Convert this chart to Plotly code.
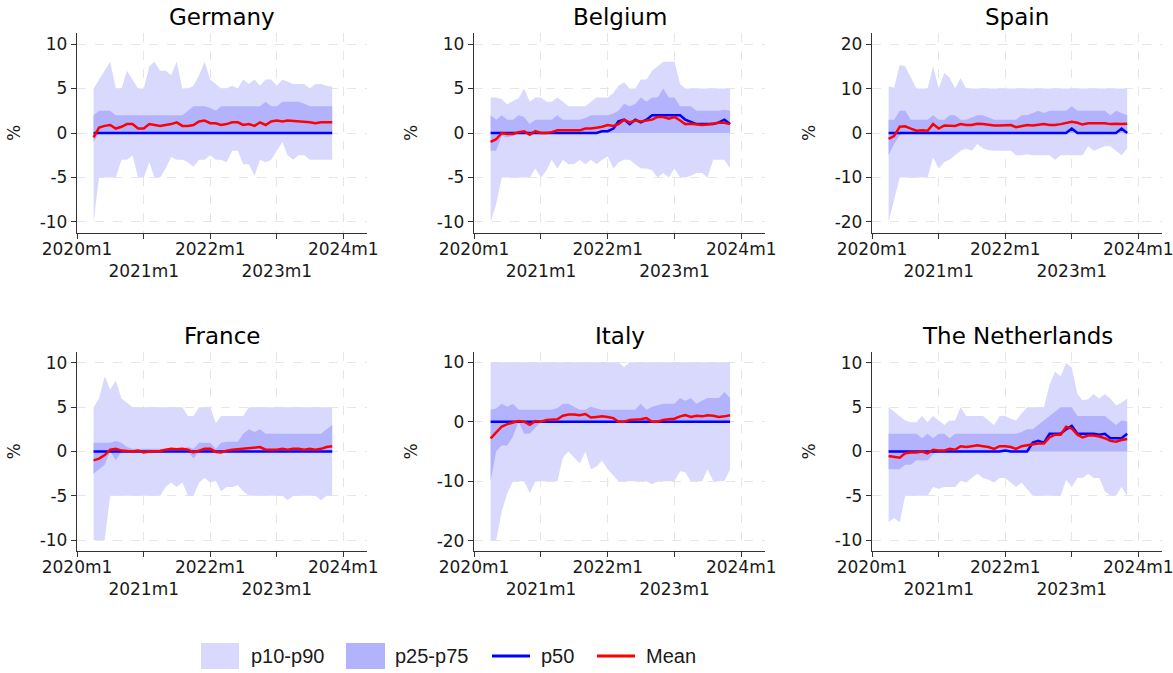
import plotly.graph_objects as go
import pandas as pd

# ---------------- data ----------------
months = list(pd.date_range("2020-04-01", periods=44, freq="MS").strftime("%Y-%m-%d"))
year_ticks = ["2020-01-01", "2021-01-01", "2022-01-01", "2023-01-01", "2024-01-01"]
year_labels = ["2020m1", "<br>2021m1", "2022m1", "<br>2023m1", "2024m1"]
countries = ["Germany", "Belgium", "Spain", "France", "Italy", "The Netherlands"]
ytick_10 = [-10, -5, 0, 5, 10]
ytext_10 = ["-10", "-5", "0", "5", "10"]
ytick_20 = [-20, -10, 0, 10, 20]
ytext_20 = ["-20", "-10", "0", "10", "20"]
ytick_it = [-20, -10, 0, 10]
ytext_it = ["-20", "-10", "0", "10"]
legend_labels = ["p10-p90", "p25-p75", "p50", "Mean"]

de_p10 = [-10, -5, -5, -5, -5, -3, -3, -2.5, -5, -5,
          -3.3, -5, -5, -4, -2.7, -3, -3, -3.3, -3.8, -3,
          -3, -2.5, -3, -3, -3.3, -2, -2, -3.5, -3.5, -4.8,
          -3, -3.3, -3, -2, -1, -2.5, -3, -2.5, -2.5, -3,
          -3, -3, -3, -3]
de_p25 = [-1, 0, 0, 0, 0, 0, 0, 0, 0, 0,
          0, 0, 0, 0, 0, 0, 0, 0, 0, 0,
          0, 0, 0, 0, 0, 0, 0, 0, 0, 0,
          0, 0, 0, 0, 0, 0, 0, 0, 0, 0,
          0, 0, 0, 0]
de_p50 = [0, 0, 0, 0, 0, 0, 0, 0, 0, 0,
          0, 0, 0, 0, 0, 0, 0, 0, 0, 0,
          0, 0, 0, 0, 0, 0, 0, 0, 0, 0,
          0, 0, 0, 0, 0, 0, 0, 0, 0, 0,
          0, 0, 0, 0]
de_p75 = [2, 2.5, 2.5, 2.5, 2, 2, 2, 2, 2, 2,
          2, 2, 2, 2, 2, 2, 2, 2.5, 3, 3,
          3, 2.8, 2.5, 3, 3, 3, 3, 3, 3, 3,
          3, 3.5, 3, 3, 3.5, 3.5, 3.5, 3.5, 3.3, 3,
          3, 3, 3, 3]
de_p90 = [5, 6, 7, 8, 5, 5, 7, 6, 5, 5,
          7.5, 8, 7, 7, 6.5, 8, 5, 5, 5.3, 6.5,
          8, 6, 5.5, 5, 5, 5.3, 5, 6, 5.5, 6,
          5.3, 6, 6, 5.3, 6, 5.8, 5.5, 5.5, 5.5, 5,
          5.5, 5.5, 5.3, 5.2]
de_mean = [-0.5, 0.6, 0.8, 0.9, 0.5, 0.7, 1.0, 1.0, 0.5, 0.5,
           1.0, 0.9, 0.8, 0.9, 1.0, 1.2, 0.8, 0.8, 0.9, 1.3,
           1.4, 1.1, 1.1, 0.9, 1.0, 1.2, 1.2, 0.9, 1.0, 0.8,
           1.2, 0.9, 1.3, 1.4, 1.3, 1.4, 1.35, 1.35, 1.3, 1.2,
           1.1, 1.2, 1.2, 1.2]

be_p10 = [-10, -8, -5, -5, -5, -5, -5, -5, -4, -5,
          -4.2, -3, -4, -3, -3.5, -3.5, -3, -3.5, -3, -3.5,
          -3, -2.6, -4, -3.3, -3, -3, -3.5, -4, -4, -4.2,
          -5, -4.5, -5, -4, -5, -5, -4.8, -4.5, -4.5, -5,
          -3, -3, -3, -4]
be_p25 = [-2, -2, -0.3, -0.5, -0.3, 0, 0, 0, 0, 0,
          0, 0, 0, 0, 0, 0, 0, 0, 0, 0,
          0, 0, 0, 0, 0, 0, 0, 0, 0, 0,
          0, 0, 0, 0, 0, 0, 0, 0, 0, 0,
          0, 0, 0, 0]
be_p50 = [0, 0, 0, 0, 0, 0, 0, 0, 0, 0,
          0, 0, 0, 0, 0, 0, 0, 0, 0, 0,
          0.2, 0.2, 0.5, 1.3, 1.5, 1.0, 1.5, 1.2, 1.5, 2,
          2, 2, 2, 2, 2, 1.5, 1.2, 1, 1, 1,
          1, 1.2, 1.5, 1]
be_p75 = [2, 1.5, 2, 1.5, 1.5, 2, 1.8, 1, 1.5, 1.5,
          1.5, 1.5, 2, 1.5, 1.5, 1.5, 1.5, 1.7, 2, 2,
          2, 2, 2.2, 2.5, 3.3, 3, 3.3, 4, 3.5, 4,
          4, 5, 4, 4, 3, 3, 3, 2.5, 2.5, 2.5,
          2.5, 2.5, 2.6, 2.5]
be_p90 = [4, 4, 3.8, 3.2, 3.6, 3.9, 5, 3.5, 4, 4,
          3.5, 3.5, 4, 3.5, 3, 3, 3, 3, 3.5, 4,
          4, 4, 4.5, 5.3, 5.7, 5, 5, 6, 6, 7,
          7.5, 8, 8, 8, 5.5, 5, 5, 5, 5, 5,
          5, 5, 5, 5]
be_mean = [-1, -0.7, 0, -0.1, -0.1, 0.1, 0.2, -0.2, 0.2, 0,
           0, 0.1, 0.3, 0.3, 0.35, 0.3, 0.3, 0.5, 0.5, 0.6,
           0.7, 0.9, 0.8, 1.0, 1.5, 1.2, 1.4, 1.3, 1.4, 1.5,
           1.8, 1.8, 1.6, 1.8, 1.4, 1.0, 1.05, 1.0, 0.9, 0.95,
           1.05, 1.15, 1.15, 1.0]

es_p10 = [-20, -15, -10, -10, -10, -10, -10, -10, -5.5, -8,
          -6.5, -6, -5, -4, -3.5, -4, -2.5, -3.5, -3.8, -4,
          -4, -4, -4, -5, -5, -4.8, -5, -5, -5, -5,
          -6, -5, -5, -5, -5, -5, -3, -4, -3.5, -3,
          -3, -4, -5, -3.5]
es_p25 = [-5, -2.5, -0.5, 0, 0, 0, 0, 0, 0, 0,
          0, 0, 0, 0, 0, 0, 0, 0, 0, 0,
          0, 0, 0, 0, 0, 0, 0, 0, 0, 0,
          0, 0, 0, 0, 0, 0, 0, 0, 0, 0,
          0, 0, 0, 0]
es_p50 = [0, 0, 0, 0, 0, 0, 0, 0, 0, 0,
          0, 0, 0, 0, 0, 0, 0, 0, 0, 0,
          0, 0, 0, 0, 0, 0, 0, 0, 0, 0,
          0, 0, 0, 1, 0, 0, 0, 0, 0, 0,
          0, 0, 1, 0]
es_p75 = [3, 3, 5, 5, 3, 3, 3, 3, 4, 3,
          3, 4, 4, 3, 3, 3.5, 4, 4, 3.5, 3,
          3, 3, 3, 3, 4, 4, 4.5, 5, 4.5, 5,
          5, 5, 5, 6, 5, 5, 5, 5, 5, 5,
          4, 5, 4.5, 4]
es_p90 = [10.5, 10.2, 15.3, 15, 12.5, 10, 10, 10, 15, 10,
          13.5, 12.5, 10, 12.3, 10, 10, 10, 10, 10, 10,
          10, 10, 10, 10, 10, 10, 10, 10, 10, 10,
          10, 10, 10, 10, 10, 10, 10, 10, 10, 10,
          10, 10, 10, 10]
es_mean = [-1.3, -0.7, 1.4, 1.5, 1.0, 0.5, 0.6, 0.5, 2.0, 1.0,
           1.7, 1.6, 1.6, 2.0, 1.8, 1.8, 2.1, 2.0, 1.8, 1.7,
           1.7, 1.7, 1.8, 1.3, 1.5, 1.8, 1.7, 1.8, 2.0, 1.8,
           1.8, 2.0, 2.2, 2.5, 2.3, 1.9, 2.2, 2.2, 2.3, 2.2,
           2.0, 2.1, 2.0, 2.1]

fr_p10 = [-10, -10, -10, -5, -5, -5, -5, -5, -5, -5,
          -5, -5, -5, -4, -3.5, -4, -3.5, -5, -5, -3.5,
          -3, -3.5, -3.3, -4.5, -4, -4, -3.8, -4.5, -5, -5,
          -5, -5, -5, -5, -5, -5.5, -5, -5, -5, -5,
          -5, -5.5, -5, -5]
fr_p25 = [-2.5, -2, -1.5, 0, -1, 0, 0, 0, 0, 0,
          0, 0, 0, 0, 0, 0, 0, 0, -0.8, 0,
          0, 0, 0, 0, 0, 0, 0, 0, 0, 0,
          0, 0, 0, 0, 0, 0, 0, 0, 0, 0,
          0, 0, 0, 0]
fr_p50 = [0, 0, 0, 0, 0, 0, 0, 0, 0, 0,
          0, 0, 0, 0, 0, 0, 0, 0, 0, 0,
          0, 0, 0, 0, 0, 0, 0, 0, 0, 0,
          0, 0, 0, 0, 0, 0, 0, 0, 0, 0,
          0, 0, 0, 0]
fr_p75 = [1, 1, 1, 1, 1.2, 1, 0.5, 0.3, 0.3, 0.3,
          0.3, 0.3, 0.3, 0.3, 0.3, 0.3, 0.3, 0.5, 0.3, 1,
          1, 1, 0.3, 1, 1.1, 1.1, 1.1, 2, 2.5, 2.2,
          2.5, 2, 2, 2, 2, 2, 2, 2, 2, 2,
          2, 2, 2.5, 3]
fr_p90 = [5, 6, 8.5, 7, 8, 6, 5.5, 5, 5, 5,
          5, 5, 5, 5, 5, 5, 5, 4, 4, 5,
          5, 5, 3.2, 4, 4, 4, 4, 4, 5, 5,
          5, 5, 5, 5, 5, 5, 5, 5, 5, 5,
          5, 5, 5, 5]
fr_mean = [-1, -0.8, -0.4, 0.2, 0.3, 0.1, 0.05, 0, 0.1, -0.1,
           0, 0, 0.05, 0.2, 0.3, 0.25, 0.3, 0.2, -0.1, 0.1,
           0.3, 0.3, -0.05, -0.1, 0.1, 0.2, 0.25, 0.3, 0.4, 0.4,
           0.5, 0.2, 0.2, 0.2, 0.3, 0.2, 0.3, 0.3, 0.2, 0.3,
           0.2, 0.3, 0.5, 0.6]

it_p10 = [-20, -20, -15, -12, -10, -10, -10, -12, -10, -10,
          -10, -10, -10, -6, -5, -6, -7, -5, -8, -7.5,
          -6.5, -8, -9, -10, -10, -10, -10, -10, -10, -10.5,
          -10, -10, -10, -10, -8.3, -8.5, -10, -10, -10, -8,
          -10, -10, -10, -8]
it_p25 = [-10, -5, -4, -4, -2.5, 0, -2, -2, -1, 0,
          0, 0, 0, 0, 0, 0, 0, 0, 0, 0,
          0, 0, 0, 0, 0, 0, 0, 0, 0, 0,
          0, 0, 0, 0, 0, 0, 0, 0, 0, 0,
          0, 0, 0, 0]
it_p50 = [0, 0, 0, 0, 0, 0, 0, 0, 0, 0,
          0, 0, 0, 0, 0, 0, 0, 0, 0, 0,
          0, 0, 0, 0, 0, 0, 0, 0, 0, 0,
          0, 0, 0, 0, 0, 0, 0, 0, 0, 0,
          0, 0, 0, 0]
it_p75 = [2, 2.2, 3, 2.5, 3, 2, 2, 2, 2, 2,
          2, 2, 2.3, 3, 3, 2.5, 2, 2, 2.5, 2.2,
          2, 2, 2, 2, 2, 2, 2, 3, 2, 2.5,
          2.8, 3, 3, 3, 4, 3.5, 4, 3, 3.5, 4,
          4, 4, 5, 4]
it_p90 = [10, 10, 10, 10, 10, 10, 10, 10, 10, 10,
          10, 10, 10, 10, 10, 10, 10, 10, 10, 10,
          10, 10, 10, 10, 9.2, 10, 10, 10, 10, 10,
          10, 10, 10, 10, 10, 10, 10, 10, 10, 10,
          10, 10, 10, 10]
it_mean = [-2.8, -1.8, -0.8, -0.4, -0.1, 0.1, 0, -0.5, 0.1, 0,
           0.3, 0.3, 0.4, 1.0, 1.2, 1.2, 1.1, 1.3, 0.7, 0.8,
           0.9, 0.8, 0.6, 0, 0, 0.3, 0.3, 0.4, 0.6, 0,
           0, 0.3, 0.4, 0.5, 0.9, 1.1, 0.8, 1.0, 0.9, 1.1,
           1.0, 0.8, 0.9, 1.1]

nl_p10 = [-8, -7.5, -8, -5, -5, -5, -5, -5, -4, -4.2,
          -4, -4, -4, -3.3, -3.5, -3, -2.5, -3, -3.2, -3.5,
          -3, -3, -3.5, -4, -3.5, -4.2, -5, -5, -5, -5,
          -5, -5, -3.2, -4, -3, -3, -2.5, -3, -3, -4.5,
          -5, -5, -4, -5]
nl_p25 = [-2, -2, -2, -1.5, -1.5, -1, -1, -1, -0.3, 0,
          0, 0, 0, 0, 0, 0, 0, 0, 0, 0,
          0, 0, 0, 0, 0, 0, 0, 0, 0, 0,
          0, 0, 0, 0, 0, 0, 0, 0, 0, 0,
          0, 0, 0, 0]
nl_p50 = [0, 0, 0, 0, 0, 0, 0, 0, 0, 0,
          0, 0, 0, 0, 0, 0, 0, 0, 0, 0,
          0, 0.1, 0, 0, 0, 0, 1.0, 1.2, 1.0, 2,
          2, 2, 2.5, 2.9, 2, 2, 2, 2, 1.9, 2,
          1.5, 1.5, 1.5, 2]
nl_p75 = [2, 2, 2, 2, 2, 2, 1.5, 2, 1.5, 2,
          2, 1.5, 2, 2, 2, 2, 2, 2, 2, 2,
          2, 2, 2, 2, 2.2, 2.5, 2.5, 3, 3.5, 4,
          4.5, 5, 5, 5, 4, 4, 4, 4, 4, 4,
          3.5, 3, 3.5, 3.4]
nl_p90 = [5, 4.5, 4, 3.5, 3.3, 3.3, 4, 3.3, 4, 3.5,
          3, 3.5, 3.5, 5, 4, 4, 4, 4, 3.5, 3,
          4, 4, 3.7, 3.5, 4.3, 5, 5, 5, 5, 7.5,
          9, 8.5, 10, 9.5, 6.5, 5.8, 5.9, 6.5, 6, 6.5,
          6, 5.2, 5.5, 6]
nl_mean = [-0.5, -0.6, -0.7, -0.2, -0.1, -0.1, 0, -0.2, 0.2, 0.1,
           0.1, 0.3, 0.2, 0.6, 0.5, 0.6, 0.7, 0.6, 0.5, 0.3,
           0.6, 0.6, 0.5, 0.3, 0.6, 0.7, 0.8, 0.9, 0.9, 1.6,
           1.9, 1.9, 2.8, 2.6, 1.9, 1.6, 1.8, 1.8, 1.7, 1.5,
           1.2, 1.1, 1.3, 1.4]

# ---------------- styling / layout ----------------
W, H = 1173, 673
LIGHT = "#d9d9fd"
DARK = "#b3b3fd"
BLUE = "#0000ff"
RED = "#ff0000"
FONT = "DejaVu Sans"
TXT = "#1a1a1a"
AX = "#333333"

panels = [
    (de_p10, de_p25, de_p50, de_p75, de_p90, de_mean),
    (be_p10, be_p25, be_p50, be_p75, be_p90, be_mean),
    (es_p10, es_p25, es_p50, es_p75, es_p90, es_mean),
    (fr_p10, fr_p25, fr_p50, fr_p75, fr_p90, fr_mean),
    (it_p10, it_p25, it_p50, it_p75, it_p90, it_mean),
    (nl_p10, nl_p25, nl_p50, nl_p75, nl_p90, nl_mean),
]
col_px = [(77, 367), (474, 765), (872, 1162)]
row_px = [(33, 233), (352, 551)]
yranges = [[-11.24, 11.24], [-11.24, 11.24], [-22.5, 22.5],
           [-11.24, 11.24], [-21.7, 11.7], [-11.24, 11.24]]
yticks = [(ytick_10, ytext_10), (ytick_10, ytext_10), (ytick_20, ytext_20),
          (ytick_10, ytext_10), (ytick_it, ytext_it), (ytick_10, ytext_10)]

fig = go.Figure()
layout = dict(
    template="none",
    width=W, height=H,
    margin=dict(l=0, r=0, t=0, b=0, pad=0),
    paper_bgcolor="white", plot_bgcolor="white",
    font=dict(family=FONT, size=17, color=TXT),
    showlegend=False,
)
annotations = []
shapes = []

for i, (p10, p25, p50, p75, p90, mean) in enumerate(panels):
    r, c = divmod(i, 3)
    k = i + 1
    xa = "x" if k == 1 else f"x{k}"
    ya = "y" if k == 1 else f"y{k}"
    fig.add_trace(go.Scatter(x=months, y=p10, mode="lines", line=dict(width=0),
                             hoverinfo="skip", xaxis=xa, yaxis=ya))
    fig.add_trace(go.Scatter(x=months, y=p90, mode="lines", line=dict(width=0),
                             fill="tonexty", fillcolor=LIGHT, name=legend_labels[0],
                             xaxis=xa, yaxis=ya))
    fig.add_trace(go.Scatter(x=months, y=p25, mode="lines", line=dict(width=0),
                             hoverinfo="skip", xaxis=xa, yaxis=ya))
    fig.add_trace(go.Scatter(x=months, y=p75, mode="lines", line=dict(width=0),
                             fill="tonexty", fillcolor=DARK, name=legend_labels[1],
                             xaxis=xa, yaxis=ya))
    fig.add_trace(go.Scatter(x=months, y=p50, mode="lines", line=dict(color=BLUE, width=2.5),
                             name=legend_labels[2], xaxis=xa, yaxis=ya))
    fig.add_trace(go.Scatter(x=months, y=mean, mode="lines", line=dict(color=RED, width=2.5),
                             name=legend_labels[3], xaxis=xa, yaxis=ya))

    L, R = col_px[c]
    T, B = row_px[r]
    xkey = "xaxis" if k == 1 else f"xaxis{k}"
    ykey = "yaxis" if k == 1 else f"yaxis{k}"
    common = dict(
        ticks="outside", ticklen=5, tickwidth=1, tickcolor=AX,
        showline=True, linecolor=AX, linewidth=1.3,
        showgrid=True, gridcolor="#e6e6e6", griddash="dash", gridwidth=1,
        zeroline=False, tickfont=dict(size=17, color=TXT, family=FONT),
        fixedrange=True, automargin=False,
    )
    layout[xkey] = dict(
        domain=[L / W, R / W], anchor=ya, type="date",
        range=["2020-01-01", "2024-05-10"],
        tickmode="array", tickvals=year_ticks, ticktext=year_labels, tickangle=0,
        ticklabelstandoff=-5, ticklabeloverflow="allow",
        **common,
    )
    layout[ykey] = dict(
        domain=[1 - B / H, 1 - T / H], anchor=xa,
        range=yranges[i], tickmode="array", tickvals=yticks[i][0], ticktext=yticks[i][1],
        **common,
    )
    annotations.append(dict(text=countries[i], xref="paper", yref="paper",
                            x=(L + R) / 2 / W, y=1 - (T - 16) / H,
                            xanchor="center", yanchor="middle", showarrow=False,
                            font=dict(size=23, family=FONT, color="black")))
    annotations.append(dict(text="%", xref="paper", yref="paper",
                            x=(L - 63) / W, y=1 - ((T + B) / 2) / H,
                            xanchor="center", yanchor="middle", textangle=-90,
                            showarrow=False, font=dict(size=17, family=FONT, color=TXT)))

# legend (bottom), drawn as a key row
LEG_Y = 656
key_boxes = [(201, 239, LIGHT), (346, 385, DARK)]
for x0, x1, col in key_boxes:
    shapes.append(dict(type="rect", xref="paper", yref="paper",
                       x0=x0 / W, x1=x1 / W, y0=1 - 669 / H, y1=1 - 643 / H,
                       fillcolor=col, line=dict(width=0), layer="above"))
key_lines = [(492, 530, BLUE), (597, 635, RED)]
for x0, x1, col in key_lines:
    shapes.append(dict(type="line", xref="paper", yref="paper",
                       x0=x0 / W, x1=x1 / W, y0=1 - LEG_Y / H, y1=1 - LEG_Y / H,
                       line=dict(color=col, width=3), layer="above"))
text_x = [249, 393, 539, 644]
for tx, lab in zip(text_x, legend_labels):
    annotations.append(dict(text=lab, xref="paper", yref="paper",
                            x=tx / W, y=1 - LEG_Y / H, xanchor="left", yanchor="middle",
                            showarrow=False,
                            font=dict(size=20, family="Liberation Sans", color=TXT)))

layout["annotations"] = annotations
layout["shapes"] = shapes
fig.update_layout(**layout)
fig.write_html("out.html",
               config={"displayModeBar": False},
               post_script="document.body.style.margin='0';document.body.style.padding='0';"
                           "document.documentElement.style.overflow='hidden';")
